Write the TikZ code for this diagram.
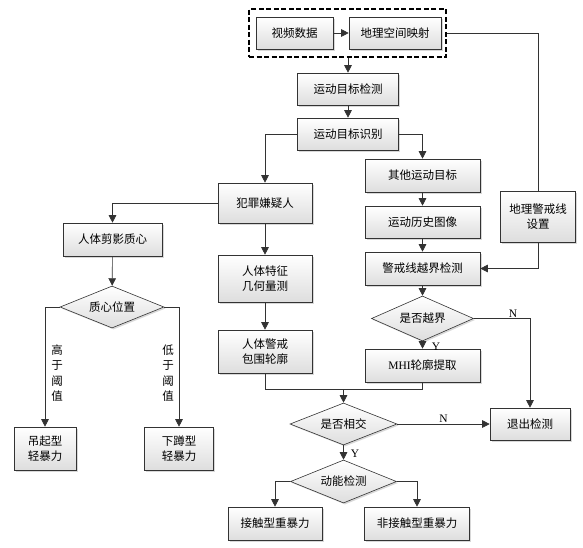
\documentclass[tikz,border=0pt]{standalone}
\usepackage{fontspec}
\setmainfont{Liberation Serif}
\newfontfamily\cjk{Noto Sans CJK SC}
\usetikzlibrary{shapes.geometric,arrows.meta,shadows}

\tikzset{
	box/.style={draw=black!80, line width=0.6pt, top color=white, bottom color=black!13, drop shadow={shadow xshift=1.5pt, shadow yshift=-1.5pt, fill=black!30}, align=center, inner sep=0pt, font=\cjk\fontsize{11.5}{15.5}\selectfont},
	cond/.style={box, diamond, aspect=2.5},
	link/.style={draw=black!80, line width=0.6pt},
	arr/.style={link, -{Triangle[length=7.5pt, width=7.5pt]}},
	tag/.style={font=\fontsize{11.5}{13}\selectfont, inner sep=1pt},
	vtag/.style={align=center, font=\cjk\fontsize{11.5}{15.5}\selectfont, inner sep=0pt}
}

\begin{document}
\begin{tikzpicture}[x=1pt, y=-1pt]
	\useasboundingbox (0,0) rectangle (583,547);
	\node[draw=black, line width=1.4pt, dash pattern=on 5pt off 2.5pt, minimum width=197pt, minimum height=48pt, inner sep=0pt] (grp) at (347.5,33) {};
	\node[box, minimum width=77pt, minimum height=32pt] (vid) at (294.5,33) {视频数据};
	\node[box, minimum width=92pt, minimum height=32pt] (geo) at (395,33) {地理空间映射};
	\node[box, minimum width=101pt, minimum height=32pt] (det) at (348,89) {运动目标检测};
	\node[box, minimum width=101pt, minimum height=32pt] (rec) at (348,134) {运动目标识别};
	\node[box, minimum width=94pt, minimum height=40pt] (sus) at (265,203) {犯罪嫌疑人};
	\node[box, minimum width=99pt, minimum height=33pt] (sil) at (112.5,239.5) {人体剪影质心};
	\node[cond, minimum width=104pt, minimum height=42pt] (pos) at (112,307) {质心位置};
	\node[box, minimum width=94pt, minimum height=47pt] (feat) at (265,278.5) {人体特征\\几何量测};
	\node[box, minimum width=94pt, minimum height=43pt] (cont) at (265,351.5) {人体警戒\\包围轮廓};
	\node[box, minimum width=62pt, minimum height=43pt] (hang) at (45,448.5) {吊起型\\轻暴力};
	\node[box, minimum width=69pt, minimum height=43pt] (squat) at (179,448.5) {下蹲型\\轻暴力};
	\node[box, minimum width=115pt, minimum height=33pt] (oth) at (422.5,175.5) {其他运动目标};
	\node[box, minimum width=115pt, minimum height=32pt] (hist) at (422.5,222) {运动历史图像};
	\node[box, minimum width=115pt, minimum height=33pt] (alarm) at (422.5,268.5) {警戒线越界检测};
	\node[cond, minimum width=102pt, minimum height=45pt] (over) at (422.5,318.5) {是否越界};
	\node[box, minimum width=115pt, minimum height=33pt] (mhi) at (422.5,365.5) {{\rmfamily MHI}轮廓提取};
	\node[box, minimum width=75pt, minimum height=51pt] (line) at (538,216.5) {地理警戒线\\设置};
	\node[cond, minimum width=107pt, minimum height=42pt] (cross) at (343.5,424) {是否相交};
	\node[box, minimum width=80pt, minimum height=32pt] (quit) at (530,424) {退出检测};
	\node[cond, minimum width=106pt, minimum height=43pt] (kin) at (343.5,481.5) {动能检测};
	\node[box, minimum width=94pt, minimum height=33pt] (touch) at (275,523.5) {接触型重暴力};
	\node[box, minimum width=105pt, minimum height=33pt] (notouch) at (417,523.5) {非接触型重暴力};
	\node[vtag] (hi) at (57,373) {高\\于\\阈\\值};
	\node[vtag] (lo) at (168,373) {低\\于\\阈\\值};
	\coordinate (join) at (343.5,389);
	\draw[arr] (vid) -- (geo);
	\draw[arr] (grp.south -| det.north) -- (det.north);
	\draw[arr] (det) -- (rec);
	\draw[arr] (rec.west) -| (sus.north);
	\draw[arr] (rec.east) -| (oth.north);
	\draw[arr] (sus.west) -| (sil.north);
	\draw[arr] (sil) -- (pos);
	\draw[arr] (pos.west) -| (hang.north);
	\draw[arr] (pos.east) -| (squat.north);
	\draw[arr] (sus) -- (feat);
	\draw[arr] (feat) -- (cont);
	\draw[link] (cont.south) |- (join);
	\draw[link] (mhi.south) |- (join);
	\draw[arr] (join) -- (cross.north);
	\draw[arr] (oth) -- (hist);
	\draw[arr] (hist) -- (alarm);
	\draw[arr] (alarm) -- (over);
	\draw[arr] (over) -- node[tag, anchor=west, xshift=8pt, yshift=-2pt] {Y} (mhi);
	\draw[arr] (over.east) -| node[tag, above, pos=0.35] {N} (quit.north);
	\draw[link] (grp.east) -| (line.north);
	\draw[arr] (line.south) |- (alarm.east);
	\draw[arr] (cross.east) -- node[tag, above, pos=0.5] {N} (quit.west);
	\draw[arr] (cross.south) -- node[tag, anchor=west, xshift=6pt, yshift=-1pt] {Y} (kin.north);
	\draw[arr] (kin.west) -| (touch.north);
	\draw[arr] (kin.east) -| (notouch.north);
\end{tikzpicture}
\end{document}
